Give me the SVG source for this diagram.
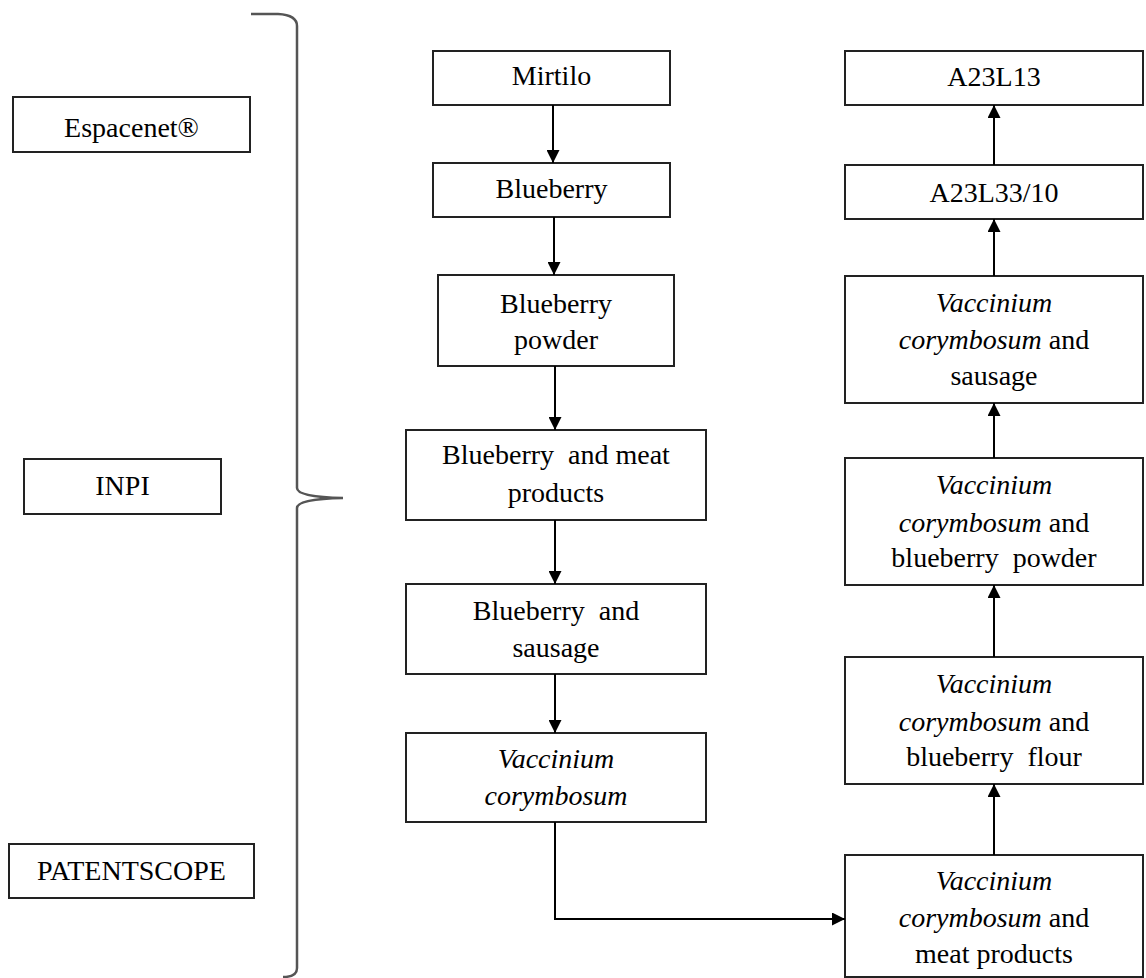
<svg xmlns="http://www.w3.org/2000/svg" width="1146" height="978" viewBox="0 0 1146 978">
<defs>
<style>
.box{fill:#fff;stroke:#222;stroke-width:2}
.t{font-family:"Liberation Serif","Times New Roman",serif;font-size:28px;fill:#000;text-anchor:middle}
.i{font-style:italic}
.c{fill:none;stroke:#000;stroke-width:2}
.brace{fill:none;stroke:#555;stroke-width:2.5}
</style>
<marker id="ah" viewBox="0 0 13 13" markerWidth="13" markerHeight="13" refX="13" refY="6.5" orient="auto" markerUnits="userSpaceOnUse">
<path d="M0,0 L13,6.5 L0,13 Z" fill="#000"/>
</marker>
</defs>
<rect width="1146" height="978" fill="#fff"/>

<g id="brace">
<path class="brace" d="M251,14 L278,14 Q297,15 297,26 L297,488 Q297,497 343,498 Q297,499 297,508 L297,968 Q297,977 283,977"/>
</g>

<g id="espacenet"><rect class="box" x="13" y="97" width="237" height="55"/><text class="t" x="131.5" y="137">Espacenet®</text></g>
<g id="inpi"><rect class="box" x="24" y="459" width="197" height="55"/><text class="t" x="122.5" y="495">INPI</text></g>
<g id="patentscope"><rect class="box" x="9" y="844" width="245" height="54"/><text class="t" x="131.5" y="880">PATENTSCOPE</text></g>

<g id="mirtilo"><rect class="box" x="433" y="51" width="237" height="54"/><text class="t" x="551.5" y="85">Mirtilo</text></g>
<g id="blueberry"><rect class="box" x="433" y="163" width="237" height="54"/><text class="t" x="551.5" y="198">Blueberry</text></g>
<g id="blueberry-powder"><rect class="box" x="438" y="275" width="236" height="91"/><text class="t" x="556" y="313">Blueberry</text><text class="t" x="556" y="349">powder</text></g>
<g id="blueberry-meat"><rect class="box" x="406" y="430" width="300" height="90"/><text class="t" x="556" y="464" xml:space="preserve">Blueberry  and meat</text><text class="t" x="556" y="502">products</text></g>
<g id="blueberry-sausage"><rect class="box" x="406" y="584" width="300" height="90"/><text class="t" x="556" y="620" xml:space="preserve">Blueberry  and</text><text class="t" x="556" y="657">sausage</text></g>
<g id="vaccinium"><rect class="box" x="406" y="733" width="300" height="89"/><text class="t i" x="556" y="768">Vaccinium</text><text class="t i" x="556" y="805">corymbosum</text></g>

<g id="a23l13"><rect class="box" x="845" y="51" width="298" height="54"/><text class="t" x="994" y="86">A23L13</text></g>
<g id="a23l33"><rect class="box" x="845" y="165" width="298" height="54"/><text class="t" x="994" y="202">A23L33/10</text></g>
<g id="vc-sausage"><rect class="box" x="845" y="276" width="298" height="127"/><text class="t i" x="994" y="312">Vaccinium</text><text class="t" x="994" y="349"><tspan class="i">corymbosum</tspan> and</text><text class="t" x="994" y="385">sausage</text></g>
<g id="vc-powder"><rect class="box" x="845" y="458" width="298" height="127"/><text class="t i" x="994" y="494">Vaccinium</text><text class="t" x="994" y="532"><tspan class="i">corymbosum</tspan> and</text><text class="t" x="994" y="567" xml:space="preserve">blueberry  powder</text></g>
<g id="vc-flour"><rect class="box" x="845" y="657" width="298" height="127"/><text class="t i" x="994" y="693">Vaccinium</text><text class="t" x="994" y="731"><tspan class="i">corymbosum</tspan> and</text><text class="t" x="994" y="766" xml:space="preserve">blueberry  flour</text></g>
<g id="vc-meat"><rect class="box" x="845" y="855" width="298" height="122"/><text class="t i" x="994" y="890">Vaccinium</text><text class="t" x="994" y="927"><tspan class="i">corymbosum</tspan> and</text><text class="t" x="994" y="963">meat products</text></g>

<g id="connectors">
<line class="c" x1="553" y1="105" x2="553" y2="163" marker-end="url(#ah)"/>
<line class="c" x1="554" y1="217" x2="554" y2="275" marker-end="url(#ah)"/>
<line class="c" x1="555" y1="366" x2="555" y2="430" marker-end="url(#ah)"/>
<line class="c" x1="555" y1="520" x2="555" y2="584" marker-end="url(#ah)"/>
<line class="c" x1="555" y1="674" x2="555" y2="733" marker-end="url(#ah)"/>
<polyline class="c" points="555,822 555,919 845,919" marker-end="url(#ah)"/>
<line class="c" x1="994" y1="165" x2="994" y2="105" marker-end="url(#ah)"/>
<line class="c" x1="994" y1="276" x2="994" y2="219" marker-end="url(#ah)"/>
<line class="c" x1="994" y1="458" x2="994" y2="403" marker-end="url(#ah)"/>
<line class="c" x1="994" y1="657" x2="994" y2="585" marker-end="url(#ah)"/>
<line class="c" x1="994" y1="855" x2="994" y2="784" marker-end="url(#ah)"/>
</g>
</svg>
